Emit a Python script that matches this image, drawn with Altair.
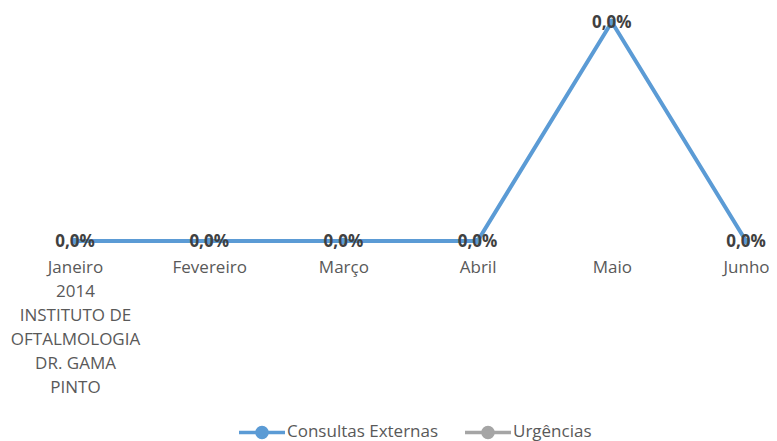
import altair as alt
import pandas as pd

months = ["Janeiro", "Fevereiro", "Março", "Abril", "Maio", "Junho"]
consultas = [0.0, 0.0, 0.0, 0.0, 0.0004, 0.0]
urgencias = [None, None, None, None, None, None]
series_names = ["Consultas Externas", "Urgências"]
first_label = ["Janeiro", "2014", "INSTITUTO DE", "OFTALMOLOGIA", "DR. GAMA", "PINTO"]

rows = []
for s, vals in [(series_names[1], urgencias), (series_names[0], consultas)]:
    for i, (m, v) in enumerate(zip(months, vals)):
        rows.append({"mes": m, "serie": s, "valor": v, "ordem": 0 if s == series_names[1] else 1})
df = pd.DataFrame(rows)

FONT = "Open Sans"
label_expr = "datum.value == 'Janeiro' ? " + str(first_label).replace('"', "'") + " : datum.value"

x = alt.X("mes:N", sort=months, scale=alt.Scale(type="point", range=[67, 738], padding=0),
          axis=alt.Axis(title=None, domain=False, ticks=False, grid=False, labelAngle=0,
                        labelFontSize=17, labelColor="#595959", labelFont=FONT,
                        labelLineHeight=24, labelPadding=18, labelExpr=label_expr,
                        labelBaseline="top"))
y = alt.Y("valor:Q", scale=alt.Scale(domain=[0, 0.0004], range=[233, 14]), axis=None)

color = alt.Color("serie:N", scale=alt.Scale(domain=series_names, range=["#5B9BD5", "#A5A5A5"]),
                  legend=alt.Legend(title=None, orient="none", legendX=229, legendY=399,
                                    direction="horizontal", labelFontSize=17, labelFont=FONT,
                                    labelColor="#595959", columnPadding=19,
                                    symbolType="M-1,0L1,0M0.22,0A0.22,0.22,0,1,1,-0.22,0A0.22,0.22,0,1,1,0.22,0Z",
                                    symbolSize=2116, symbolStrokeWidth=3.5, labelOffset=0))

base = alt.Chart(df)
lines = base.mark_line(strokeWidth=4, point=alt.OverlayMarkDef(size=40, filled=True)).encode(
    x=x, y=y, color=color, order="ordem:Q", detail="serie:N"
)
labels = base.transform_filter(alt.datum.serie == series_names[0]).transform_calculate(
    lab="replace(format(datum.valor, '.1%'), '.', ',')"
).mark_text(fontWeight="bold", fontSize=17, color="#404040", font=FONT, baseline="middle", dy=1).encode(
    x=x, y=y, text="lab:N"
)

chart = (lines + labels).properties(
    width=745, height=233, padding={"left": 0, "top": 0, "right": 16, "bottom": 200},
    autosize=alt.AutoSizeParams(type="none")
).configure_view(stroke=None)

chart.save("out.html", embed_options={"renderer": "svg", "actions": False})
